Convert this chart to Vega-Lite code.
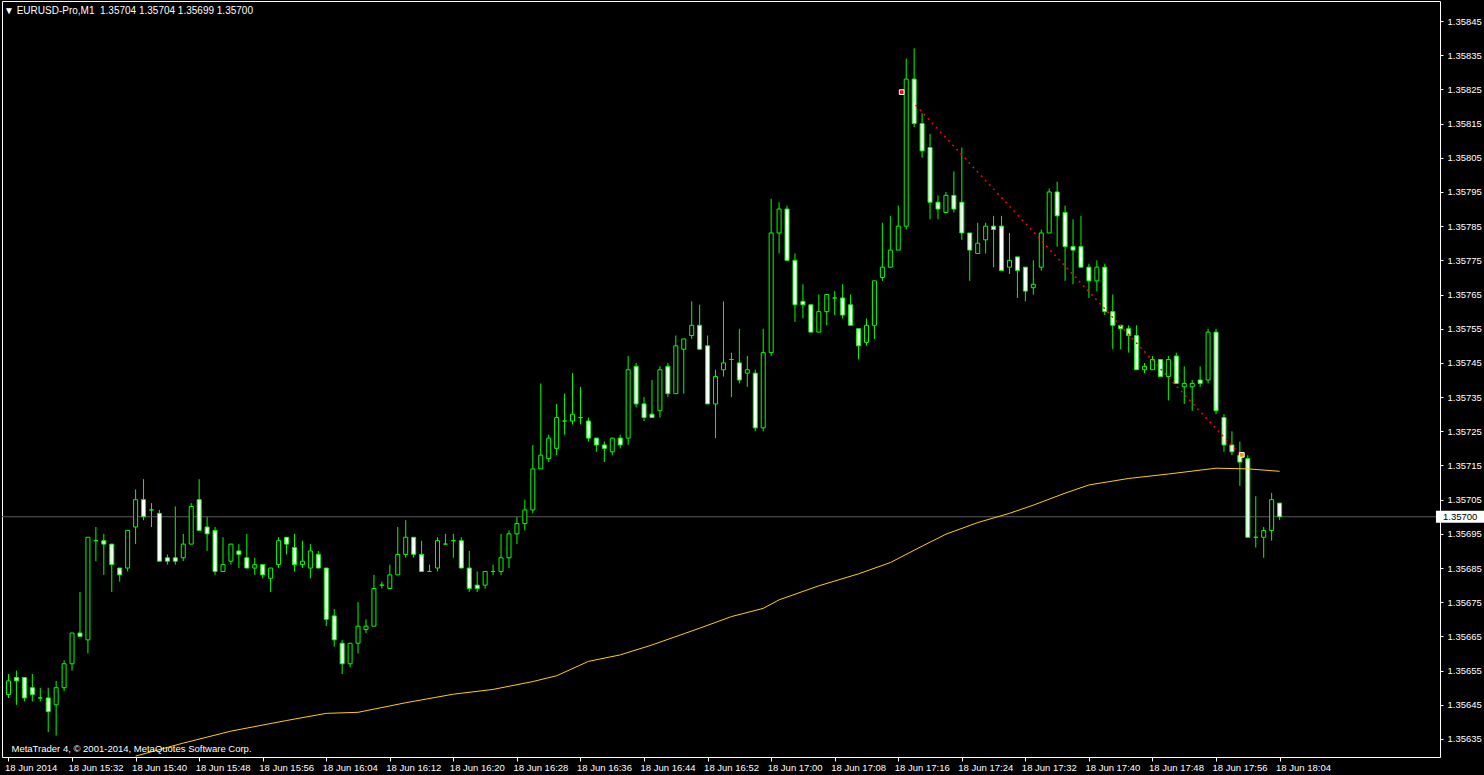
{
"$schema": "https://vega.github.io/schema/vega-lite/v6.json",
"width": 1438, "height": 756,
"autosize": {"type": "none"},
"padding": {"left": 2, "top": 1, "right": 44, "bottom": 18},
"background": "#000000",
"view": {"stroke": "#ffffff", "strokeWidth": 1, "fill": "#000000"},
"config": {"axis": {"labelOverlap": false, "labelBound": false, "labelFlush": false, "grid": false, "domain": false}},
"title": {"text": "▼ EURUSD-Pro,M1\u00a0\u00a01.35704 1.35704 1.35699 1.35700", "anchor": "start", "orient": "top", "frame": "group", "offset": -15, "dx": 2, "color": "#ffffff", "font": "Liberation Sans", "fontSize": 10, "fontWeight": "normal"},
"datasets": {
"candles": [
{"t":"2014-06-18T15:24:00Z","o":1.35648,"h":1.35654,"l":1.35647,"c":1.35652},
{"t":"2014-06-18T15:25:00Z","o":1.35653,"h":1.35655,"l":1.35645,"c":1.35652},
{"t":"2014-06-18T15:26:00Z","o":1.35653,"h":1.35653,"l":1.35646,"c":1.35647},
{"t":"2014-06-18T15:27:00Z","o":1.35650,"h":1.35654,"l":1.35646,"c":1.35648},
{"t":"2014-06-18T15:28:00Z","o":1.35647,"h":1.35650,"l":1.35646,"c":1.35647},
{"t":"2014-06-18T15:29:00Z","o":1.35647,"h":1.35650,"l":1.35637,"c":1.35643},
{"t":"2014-06-18T15:30:00Z","o":1.35645,"h":1.35652,"l":1.35636,"c":1.35650},
{"t":"2014-06-18T15:31:00Z","o":1.35650,"h":1.35658,"l":1.35649,"c":1.35657},
{"t":"2014-06-18T15:32:00Z","o":1.35657,"h":1.35666,"l":1.35655,"c":1.35666},
{"t":"2014-06-18T15:33:00Z","o":1.35666,"h":1.35678,"l":1.35665,"c":1.35665},
{"t":"2014-06-18T15:34:00Z","o":1.35664,"h":1.35694,"l":1.35660,"c":1.35694},
{"t":"2014-06-18T15:35:00Z","o":1.35693,"h":1.35697,"l":1.35687,"c":1.35693},
{"t":"2014-06-18T15:36:00Z","o":1.35693,"h":1.35695,"l":1.35683,"c":1.35692},
{"t":"2014-06-18T15:37:00Z","o":1.35692,"h":1.35692,"l":1.35678,"c":1.35686},
{"t":"2014-06-18T15:38:00Z","o":1.35685,"h":1.35685,"l":1.35681,"c":1.35683},
{"t":"2014-06-18T15:39:00Z","o":1.35685,"h":1.35696,"l":1.35684,"c":1.35696},
{"t":"2014-06-18T15:40:00Z","o":1.35697,"h":1.35708,"l":1.35692,"c":1.35705},
{"t":"2014-06-18T15:41:00Z","o":1.35705,"h":1.35711,"l":1.35699,"c":1.35700},
{"t":"2014-06-18T15:42:00Z","o":1.35702,"h":1.35704,"l":1.35697,"c":1.35702},
{"t":"2014-06-18T15:43:00Z","o":1.35701,"h":1.35702,"l":1.35687,"c":1.35687},
{"t":"2014-06-18T15:44:00Z","o":1.35688,"h":1.35689,"l":1.35686,"c":1.35687},
{"t":"2014-06-18T15:45:00Z","o":1.35688,"h":1.35703,"l":1.35686,"c":1.35687},
{"t":"2014-06-18T15:46:00Z","o":1.35688,"h":1.35695,"l":1.35687,"c":1.35692},
{"t":"2014-06-18T15:47:00Z","o":1.35692,"h":1.35704,"l":1.35692,"c":1.35703},
{"t":"2014-06-18T15:48:00Z","o":1.35705,"h":1.35711,"l":1.35696,"c":1.35696},
{"t":"2014-06-18T15:49:00Z","o":1.35697,"h":1.35700,"l":1.35690,"c":1.35695},
{"t":"2014-06-18T15:50:00Z","o":1.35696,"h":1.35697,"l":1.35683,"c":1.35684},
{"t":"2014-06-18T15:51:00Z","o":1.35684,"h":1.35694,"l":1.35684,"c":1.35686},
{"t":"2014-06-18T15:52:00Z","o":1.35687,"h":1.35692,"l":1.35686,"c":1.35692},
{"t":"2014-06-18T15:53:00Z","o":1.35690,"h":1.35692,"l":1.35685,"c":1.35689},
{"t":"2014-06-18T15:54:00Z","o":1.35688,"h":1.35695,"l":1.35685,"c":1.35685},
{"t":"2014-06-18T15:55:00Z","o":1.35685,"h":1.35688,"l":1.35683,"c":1.35686},
{"t":"2014-06-18T15:56:00Z","o":1.35686,"h":1.35686,"l":1.35682,"c":1.35683},
{"t":"2014-06-18T15:57:00Z","o":1.35682,"h":1.35685,"l":1.35678,"c":1.35685},
{"t":"2014-06-18T15:58:00Z","o":1.35686,"h":1.35694,"l":1.35685,"c":1.35693},
{"t":"2014-06-18T15:59:00Z","o":1.35694,"h":1.35694,"l":1.35689,"c":1.35692},
{"t":"2014-06-18T16:00:00Z","o":1.35691,"h":1.35695,"l":1.35684,"c":1.35686},
{"t":"2014-06-18T16:01:00Z","o":1.35686,"h":1.35693,"l":1.35685,"c":1.35687},
{"t":"2014-06-18T16:02:00Z","o":1.35685,"h":1.35692,"l":1.35682,"c":1.35690},
{"t":"2014-06-18T16:03:00Z","o":1.35689,"h":1.35690,"l":1.35685,"c":1.35685},
{"t":"2014-06-18T16:04:00Z","o":1.35685,"h":1.35685,"l":1.35668,"c":1.35670},
{"t":"2014-06-18T16:05:00Z","o":1.35671,"h":1.35673,"l":1.35662,"c":1.35664},
{"t":"2014-06-18T16:06:00Z","o":1.35663,"h":1.35664,"l":1.35654,"c":1.35657},
{"t":"2014-06-18T16:07:00Z","o":1.35657,"h":1.35663,"l":1.35656,"c":1.35663},
{"t":"2014-06-18T16:08:00Z","o":1.35663,"h":1.35675,"l":1.35660,"c":1.35668},
{"t":"2014-06-18T16:09:00Z","o":1.35667,"h":1.35670,"l":1.35666,"c":1.35668},
{"t":"2014-06-18T16:10:00Z","o":1.35668,"h":1.35683,"l":1.35668,"c":1.35679},
{"t":"2014-06-18T16:11:00Z","o":1.35680,"h":1.35681,"l":1.35679,"c":1.35680},
{"t":"2014-06-18T16:12:00Z","o":1.35679,"h":1.35686,"l":1.35679,"c":1.35683},
{"t":"2014-06-18T16:13:00Z","o":1.35683,"h":1.35697,"l":1.35683,"c":1.35689},
{"t":"2014-06-18T16:14:00Z","o":1.35689,"h":1.35699,"l":1.35688,"c":1.35694},
{"t":"2014-06-18T16:15:00Z","o":1.35694,"h":1.35694,"l":1.35688,"c":1.35689},
{"t":"2014-06-18T16:16:00Z","o":1.35689,"h":1.35693,"l":1.35684,"c":1.35684},
{"t":"2014-06-18T16:17:00Z","o":1.35684,"h":1.35686,"l":1.35684,"c":1.35684},
{"t":"2014-06-18T16:18:00Z","o":1.35685,"h":1.35694,"l":1.35684,"c":1.35693},
{"t":"2014-06-18T16:19:00Z","o":1.35692,"h":1.35695,"l":1.35692,"c":1.35692},
{"t":"2014-06-18T16:20:00Z","o":1.35693,"h":1.35695,"l":1.35688,"c":1.35693},
{"t":"2014-06-18T16:21:00Z","o":1.35693,"h":1.35694,"l":1.35685,"c":1.35685},
{"t":"2014-06-18T16:22:00Z","o":1.35685,"h":1.35690,"l":1.35678,"c":1.35679},
{"t":"2014-06-18T16:23:00Z","o":1.35680,"h":1.35684,"l":1.35678,"c":1.35679},
{"t":"2014-06-18T16:24:00Z","o":1.35680,"h":1.35684,"l":1.35679,"c":1.35684},
{"t":"2014-06-18T16:25:00Z","o":1.35684,"h":1.35686,"l":1.35683,"c":1.35684},
{"t":"2014-06-18T16:26:00Z","o":1.35684,"h":1.35695,"l":1.35683,"c":1.35688},
{"t":"2014-06-18T16:27:00Z","o":1.35688,"h":1.35696,"l":1.35685,"c":1.35695},
{"t":"2014-06-18T16:28:00Z","o":1.35695,"h":1.35700,"l":1.35692,"c":1.35698},
{"t":"2014-06-18T16:29:00Z","o":1.35698,"h":1.35705,"l":1.35696,"c":1.35702},
{"t":"2014-06-18T16:30:00Z","o":1.35702,"h":1.35721,"l":1.35701,"c":1.35714},
{"t":"2014-06-18T16:31:00Z","o":1.35714,"h":1.35739,"l":1.35714,"c":1.35718},
{"t":"2014-06-18T16:32:00Z","o":1.35717,"h":1.35724,"l":1.35716,"c":1.35723},
{"t":"2014-06-18T16:33:00Z","o":1.35720,"h":1.35733,"l":1.35718,"c":1.35729},
{"t":"2014-06-18T16:34:00Z","o":1.35728,"h":1.35736,"l":1.35724,"c":1.35728},
{"t":"2014-06-18T16:35:00Z","o":1.35728,"h":1.35742,"l":1.35727,"c":1.35730},
{"t":"2014-06-18T16:36:00Z","o":1.35729,"h":1.35738,"l":1.35727,"c":1.35729},
{"t":"2014-06-18T16:37:00Z","o":1.35728,"h":1.35729,"l":1.35722,"c":1.35723},
{"t":"2014-06-18T16:38:00Z","o":1.35723,"h":1.35723,"l":1.35719,"c":1.35721},
{"t":"2014-06-18T16:39:00Z","o":1.35721,"h":1.35722,"l":1.35716,"c":1.35720},
{"t":"2014-06-18T16:40:00Z","o":1.35719,"h":1.35723,"l":1.35718,"c":1.35723},
{"t":"2014-06-18T16:41:00Z","o":1.35723,"h":1.35724,"l":1.35720,"c":1.35721},
{"t":"2014-06-18T16:42:00Z","o":1.35723,"h":1.35747,"l":1.35721,"c":1.35743},
{"t":"2014-06-18T16:43:00Z","o":1.35744,"h":1.35745,"l":1.35732,"c":1.35733},
{"t":"2014-06-18T16:44:00Z","o":1.35733,"h":1.35735,"l":1.35728,"c":1.35729},
{"t":"2014-06-18T16:45:00Z","o":1.35730,"h":1.35740,"l":1.35729,"c":1.35729},
{"t":"2014-06-18T16:46:00Z","o":1.35731,"h":1.35744,"l":1.35729,"c":1.35743},
{"t":"2014-06-18T16:47:00Z","o":1.35744,"h":1.35745,"l":1.35735,"c":1.35736},
{"t":"2014-06-18T16:48:00Z","o":1.35736,"h":1.35753,"l":1.35736,"c":1.35750},
{"t":"2014-06-18T16:49:00Z","o":1.35749,"h":1.35752,"l":1.35736,"c":1.35752},
{"t":"2014-06-18T16:50:00Z","o":1.35753,"h":1.35763,"l":1.35752,"c":1.35756},
{"t":"2014-06-18T16:51:00Z","o":1.35756,"h":1.35762,"l":1.35749,"c":1.35749},
{"t":"2014-06-18T16:52:00Z","o":1.35750,"h":1.35753,"l":1.35733,"c":1.35733},
{"t":"2014-06-18T16:53:00Z","o":1.35733,"h":1.35743,"l":1.35723,"c":1.35741},
{"t":"2014-06-18T16:54:00Z","o":1.35743,"h":1.35763,"l":1.35741,"c":1.35745},
{"t":"2014-06-18T16:55:00Z","o":1.35746,"h":1.35748,"l":1.35735,"c":1.35746},
{"t":"2014-06-18T16:56:00Z","o":1.35745,"h":1.35755,"l":1.35739,"c":1.35740},
{"t":"2014-06-18T16:57:00Z","o":1.35742,"h":1.35747,"l":1.35738,"c":1.35743},
{"t":"2014-06-18T16:58:00Z","o":1.35742,"h":1.35743,"l":1.35725,"c":1.35726},
{"t":"2014-06-18T16:59:00Z","o":1.35726,"h":1.35755,"l":1.35725,"c":1.35748},
{"t":"2014-06-18T17:00:00Z","o":1.35748,"h":1.35793,"l":1.35747,"c":1.35783},
{"t":"2014-06-18T17:01:00Z","o":1.35783,"h":1.35792,"l":1.35777,"c":1.35790},
{"t":"2014-06-18T17:02:00Z","o":1.35790,"h":1.35791,"l":1.35775,"c":1.35775},
{"t":"2014-06-18T17:03:00Z","o":1.35775,"h":1.35777,"l":1.35757,"c":1.35762},
{"t":"2014-06-18T17:04:00Z","o":1.35763,"h":1.35768,"l":1.35758,"c":1.35762},
{"t":"2014-06-18T17:05:00Z","o":1.35762,"h":1.35762,"l":1.35754,"c":1.35754},
{"t":"2014-06-18T17:06:00Z","o":1.35754,"h":1.35765,"l":1.35754,"c":1.35760},
{"t":"2014-06-18T17:07:00Z","o":1.35760,"h":1.35765,"l":1.35756,"c":1.35765},
{"t":"2014-06-18T17:08:00Z","o":1.35764,"h":1.35766,"l":1.35759,"c":1.35764},
{"t":"2014-06-18T17:09:00Z","o":1.35764,"h":1.35768,"l":1.35758,"c":1.35759},
{"t":"2014-06-18T17:10:00Z","o":1.35762,"h":1.35765,"l":1.35756,"c":1.35756},
{"t":"2014-06-18T17:11:00Z","o":1.35755,"h":1.35755,"l":1.35746,"c":1.35750},
{"t":"2014-06-18T17:12:00Z","o":1.35751,"h":1.35758,"l":1.35750,"c":1.35756},
{"t":"2014-06-18T17:13:00Z","o":1.35756,"h":1.35769,"l":1.35752,"c":1.35769},
{"t":"2014-06-18T17:14:00Z","o":1.35770,"h":1.35786,"l":1.35769,"c":1.35773},
{"t":"2014-06-18T17:15:00Z","o":1.35773,"h":1.35788,"l":1.35773,"c":1.35778},
{"t":"2014-06-18T17:16:00Z","o":1.35778,"h":1.35791,"l":1.35778,"c":1.35785},
{"t":"2014-06-18T17:17:00Z","o":1.35785,"h":1.35834,"l":1.35784,"c":1.35828},
{"t":"2014-06-18T17:18:00Z","o":1.35828,"h":1.35837,"l":1.35814,"c":1.35815},
{"t":"2014-06-18T17:19:00Z","o":1.35815,"h":1.35818,"l":1.35805,"c":1.35807},
{"t":"2014-06-18T17:20:00Z","o":1.35808,"h":1.35812,"l":1.35787,"c":1.35792},
{"t":"2014-06-18T17:21:00Z","o":1.35792,"h":1.35794,"l":1.35787,"c":1.35790},
{"t":"2014-06-18T17:22:00Z","o":1.35789,"h":1.35795,"l":1.35789,"c":1.35794},
{"t":"2014-06-18T17:23:00Z","o":1.35794,"h":1.35801,"l":1.35789,"c":1.35790},
{"t":"2014-06-18T17:24:00Z","o":1.35792,"h":1.35808,"l":1.35781,"c":1.35783},
{"t":"2014-06-18T17:25:00Z","o":1.35783,"h":1.35783,"l":1.35769,"c":1.35778},
{"t":"2014-06-18T17:26:00Z","o":1.35777,"h":1.35786,"l":1.35777,"c":1.35780},
{"t":"2014-06-18T17:27:00Z","o":1.35781,"h":1.35786,"l":1.35777,"c":1.35785},
{"t":"2014-06-18T17:28:00Z","o":1.35785,"h":1.35788,"l":1.35773,"c":1.35784},
{"t":"2014-06-18T17:29:00Z","o":1.35785,"h":1.35788,"l":1.35772,"c":1.35772},
{"t":"2014-06-18T17:30:00Z","o":1.35773,"h":1.35783,"l":1.35771,"c":1.35775},
{"t":"2014-06-18T17:31:00Z","o":1.35776,"h":1.35776,"l":1.35764,"c":1.35772},
{"t":"2014-06-18T17:32:00Z","o":1.35773,"h":1.35773,"l":1.35763,"c":1.35766},
{"t":"2014-06-18T17:33:00Z","o":1.35767,"h":1.35775,"l":1.35765,"c":1.35768},
{"t":"2014-06-18T17:34:00Z","o":1.35773,"h":1.35784,"l":1.35772,"c":1.35783},
{"t":"2014-06-18T17:35:00Z","o":1.35783,"h":1.35796,"l":1.35783,"c":1.35795},
{"t":"2014-06-18T17:36:00Z","o":1.35795,"h":1.35798,"l":1.35779,"c":1.35788},
{"t":"2014-06-18T17:37:00Z","o":1.35789,"h":1.35791,"l":1.35769,"c":1.35779},
{"t":"2014-06-18T17:38:00Z","o":1.35779,"h":1.35787,"l":1.35768,"c":1.35778},
{"t":"2014-06-18T17:39:00Z","o":1.35779,"h":1.35788,"l":1.35773,"c":1.35773},
{"t":"2014-06-18T17:40:00Z","o":1.35773,"h":1.35774,"l":1.35764,"c":1.35769},
{"t":"2014-06-18T17:41:00Z","o":1.35769,"h":1.35775,"l":1.35766,"c":1.35773},
{"t":"2014-06-18T17:42:00Z","o":1.35773,"h":1.35774,"l":1.35759,"c":1.35760},
{"t":"2014-06-18T17:43:00Z","o":1.35760,"h":1.35765,"l":1.35749,"c":1.35756},
{"t":"2014-06-18T17:44:00Z","o":1.35756,"h":1.35756,"l":1.35749,"c":1.35755},
{"t":"2014-06-18T17:45:00Z","o":1.35755,"h":1.35756,"l":1.35748,"c":1.35753},
{"t":"2014-06-18T17:46:00Z","o":1.35753,"h":1.35756,"l":1.35743,"c":1.35743},
{"t":"2014-06-18T17:47:00Z","o":1.35743,"h":1.35745,"l":1.35742,"c":1.35744},
{"t":"2014-06-18T17:48:00Z","o":1.35743,"h":1.35747,"l":1.35743,"c":1.35746},
{"t":"2014-06-18T17:49:00Z","o":1.35746,"h":1.35746,"l":1.35741,"c":1.35741},
{"t":"2014-06-18T17:50:00Z","o":1.35741,"h":1.35747,"l":1.35734,"c":1.35746},
{"t":"2014-06-18T17:51:00Z","o":1.35747,"h":1.35748,"l":1.35739,"c":1.35739},
{"t":"2014-06-18T17:52:00Z","o":1.35738,"h":1.35744,"l":1.35733,"c":1.35739},
{"t":"2014-06-18T17:53:00Z","o":1.35738,"h":1.35740,"l":1.35731,"c":1.35739},
{"t":"2014-06-18T17:54:00Z","o":1.35740,"h":1.35744,"l":1.35738,"c":1.35739},
{"t":"2014-06-18T17:55:00Z","o":1.35740,"h":1.35755,"l":1.35739,"c":1.35754},
{"t":"2014-06-18T17:56:00Z","o":1.35754,"h":1.35755,"l":1.35730,"c":1.35731},
{"t":"2014-06-18T17:57:00Z","o":1.35729,"h":1.35730,"l":1.35719,"c":1.35721},
{"t":"2014-06-18T17:58:00Z","o":1.35721,"h":1.35725,"l":1.35718,"c":1.35719},
{"t":"2014-06-18T17:59:00Z","o":1.35718,"h":1.35722,"l":1.35709,"c":1.35716},
{"t":"2014-06-18T18:00:00Z","o":1.35717,"h":1.35718,"l":1.35694,"c":1.35694},
{"t":"2014-06-18T18:01:00Z","o":1.35694,"h":1.35706,"l":1.35691,"c":1.35694},
{"t":"2014-06-18T18:02:00Z","o":1.35694,"h":1.35697,"l":1.35688,"c":1.35696},
{"t":"2014-06-18T18:03:00Z","o":1.35696,"h":1.35707,"l":1.35693,"c":1.35705},
{"t":"2014-06-18T18:04:00Z","o":1.35704,"h":1.35704,"l":1.35699,"c":1.35700}
],
"ma": [
{"t":"2014-06-18T15:40:00Z","ma":1.35630},
{"t":"2014-06-18T15:46:00Z","ma":1.356338},
{"t":"2014-06-18T15:52:00Z","ma":1.356373},
{"t":"2014-06-18T15:59:00Z","ma":1.356404},
{"t":"2014-06-18T16:04:00Z","ma":1.356425},
{"t":"2014-06-18T16:08:00Z","ma":1.356428},
{"t":"2014-06-18T16:14:00Z","ma":1.356456},
{"t":"2014-06-18T16:20:00Z","ma":1.356481},
{"t":"2014-06-18T16:25:00Z","ma":1.356495},
{"t":"2014-06-18T16:30:00Z","ma":1.356518},
{"t":"2014-06-18T16:33:00Z","ma":1.356535},
{"t":"2014-06-18T16:37:00Z","ma":1.356577},
{"t":"2014-06-18T16:41:00Z","ma":1.356596},
{"t":"2014-06-18T16:45:00Z","ma":1.356625},
{"t":"2014-06-18T16:51:00Z","ma":1.356674},
{"t":"2014-06-18T16:55:00Z","ma":1.356708},
{"t":"2014-06-18T16:59:00Z","ma":1.356732},
{"t":"2014-06-18T17:01:00Z","ma":1.356757},
{"t":"2014-06-18T17:06:00Z","ma":1.356798},
{"t":"2014-06-18T17:11:00Z","ma":1.356833},
{"t":"2014-06-18T17:15:00Z","ma":1.356866},
{"t":"2014-06-18T17:19:00Z","ma":1.356914},
{"t":"2014-06-18T17:22:00Z","ma":1.356949},
{"t":"2014-06-18T17:26:00Z","ma":1.356983},
{"t":"2014-06-18T17:30:00Z","ma":1.357010},
{"t":"2014-06-18T17:33:00Z","ma":1.357034},
{"t":"2014-06-18T17:37:00Z","ma":1.357069},
{"t":"2014-06-18T17:40:00Z","ma":1.357093},
{"t":"2014-06-18T17:45:00Z","ma":1.357112},
{"t":"2014-06-18T17:50:00Z","ma":1.357125},
{"t":"2014-06-18T17:56:00Z","ma":1.357142},
{"t":"2014-06-18T18:00:00Z","ma":1.357140},
{"t":"2014-06-18T18:04:00Z","ma":1.357133}
],
"trendline": [
{"t":"2014-06-18T17:18:11Z","p":1.358204},
{"t":"2014-06-18T17:59:04Z","p":1.357181}
],
"trades": [
{"t":"2014-06-18T17:16:26Z","p":1.358242,"kind":"open"},
{"t":"2014-06-18T17:59:15Z","p":1.357181,"kind":"close"}
]
},
"layer": [
{
"data": {"name": "candles"},
"mark": {"type": "rule", "color": "#00ff00", "strokeWidth": 1, "clip": true},
"encoding": {
"x": {"field": "t", "type": "temporal", "title": null,
"scale": {"type": "utc", "nice": false, "domain": [{"year":2014,"month":6,"date":18,"hours":15,"minutes":23,"seconds":48,"milliseconds":750,"utc":true},{"year":2014,"month":6,"date":18,"hours":18,"minutes":23,"seconds":33,"milliseconds":750,"utc":true}]},
"axis": {"orient": "bottom", "domain": false, "grid": false, "tickColor": "#ffffff", "tickSize": 4, "tickCount": 60, "labelColor": "#ffffff", "labelFont": "Liberation Sans", "labelFontSize": 9.5, "labelAlign": "left", "labelPadding": 1, "labelOffset": -4, "labelFlush": false, "labelOverlap": false, "labelBound": false,
"labelExpr": "utcFormat(datum.value, '%H:%M') == '15:24' ? '18 Jun 2014' : utcFormat(datum.value, '%d %b %H:%M')",
"values": [
{"year":2014,"month":6,"date":18,"hours":15,"minutes":24,"utc":true},
{"year":2014,"month":6,"date":18,"hours":15,"minutes":32,"utc":true},
{"year":2014,"month":6,"date":18,"hours":15,"minutes":40,"utc":true},
{"year":2014,"month":6,"date":18,"hours":15,"minutes":48,"utc":true},
{"year":2014,"month":6,"date":18,"hours":15,"minutes":56,"utc":true},
{"year":2014,"month":6,"date":18,"hours":16,"minutes":4,"utc":true},
{"year":2014,"month":6,"date":18,"hours":16,"minutes":12,"utc":true},
{"year":2014,"month":6,"date":18,"hours":16,"minutes":20,"utc":true},
{"year":2014,"month":6,"date":18,"hours":16,"minutes":28,"utc":true},
{"year":2014,"month":6,"date":18,"hours":16,"minutes":36,"utc":true},
{"year":2014,"month":6,"date":18,"hours":16,"minutes":44,"utc":true},
{"year":2014,"month":6,"date":18,"hours":16,"minutes":52,"utc":true},
{"year":2014,"month":6,"date":18,"hours":17,"minutes":0,"utc":true},
{"year":2014,"month":6,"date":18,"hours":17,"minutes":8,"utc":true},
{"year":2014,"month":6,"date":18,"hours":17,"minutes":16,"utc":true},
{"year":2014,"month":6,"date":18,"hours":17,"minutes":24,"utc":true},
{"year":2014,"month":6,"date":18,"hours":17,"minutes":32,"utc":true},
{"year":2014,"month":6,"date":18,"hours":17,"minutes":40,"utc":true},
{"year":2014,"month":6,"date":18,"hours":17,"minutes":48,"utc":true},
{"year":2014,"month":6,"date":18,"hours":17,"minutes":56,"utc":true},
{"year":2014,"month":6,"date":18,"hours":18,"minutes":4,"utc":true}
]}},
"y": {"field": "l", "type": "quantitative", "title": null,
"scale": {"domain": [1.35629732, 1.3585085], "nice": false, "zero": false},
"axis": {"orient": "right", "domain": false, "grid": false, "tickColor": "#ffffff", "tickSize": 3, "tickCount": 60, "labelColor": "#ffffff", "labelFont": "Liberation Sans", "labelFontSize": 9.5, "labelPadding": 4, "format": ".5f", "labelOverlap": false, "labelBound": false, "labelFlush": false,
"values": [1.35635,1.35645,1.35655,1.35665,1.35675,1.35685,1.35695,1.35705,1.35715,1.35725,1.35735,1.35745,1.35755,1.35765,1.35775,1.35785,1.35795,1.35805,1.35815,1.35825,1.35835,1.35845]}},
"y2": {"field": "h"}
}
},
{
"data": {"values": [{}]},
"mark": {"type": "rule", "color": "#5a5a5a", "strokeWidth": 1},
"encoding": {"y": {"datum": 1.357, "type": "quantitative", "title": null}}
},
{
"data": {"name": "candles"},
"mark": {"type": "bar", "width": 4, "stroke": "#00ff00", "strokeWidth": 1, "clip": true},
"encoding": {
"x": {"field": "t", "type": "temporal", "title": null},
"y": {"field": "o", "type": "quantitative", "title": null},
"y2": {"field": "c"},
"fill": {"condition": {"test": "datum.c < datum.o", "value": "#ffffff"}, "value": "#000000"}
}
},
{
"data": {"name": "ma"},
"mark": {"type": "line", "color": "#ffd000", "strokeWidth": 1, "clip": true},
"encoding": {
"x": {"field": "t", "type": "temporal", "title": null},
"y": {"field": "ma", "type": "quantitative", "title": null}
}
},
{
"data": {"name": "trendline"},
"mark": {"type": "line", "color": "#ff0000", "strokeWidth": 1.5, "strokeDash": [2, 4]},
"encoding": {
"x": {"field": "t", "type": "temporal", "title": null},
"y": {"field": "p", "type": "quantitative", "title": null}
}
},
{
"data": {"name": "trades"},
"mark": {"type": "point", "shape": "square", "size": 22, "filled": true, "stroke": "#ffffff", "strokeWidth": 1, "opacity": 1},
"encoding": {
"x": {"field": "t", "type": "temporal", "title": null},
"y": {"field": "p", "type": "quantitative", "title": null},
"fill": {"field": "kind", "type": "nominal", "legend": null, "scale": {"domain": ["open", "close"], "range": ["#ff0000", "#e0a000"]}}
}
},
{
"data": {"values": [{}]},
"mark": {"type": "text", "text": "MetaTrader 4, © 2001-2014, MetaQuotes Software Corp.", "align": "left", "baseline": "middle", "dx": 3, "color": "#ffffff", "font": "Liberation Sans", "fontSize": 9.5},
"encoding": {
"x": {"datum": {"year":2014,"month":6,"date":18,"hours":15,"minutes":24,"utc":true}, "type": "temporal", "title": null},
"y": {"datum": 1.35632, "type": "quantitative", "title": null}
}
},
{
"data": {"values": [{}]},
"mark": {"type": "rect", "fill": "#ffffff"},
"encoding": {
"x": {"datum": {"year":2014,"month":6,"date":18,"hours":18,"minutes":23,"seconds":41,"utc":true}, "type": "temporal", "title": null},
"x2": {"datum": {"year":2014,"month":6,"date":18,"hours":18,"minutes":30,"utc":true}},
"y": {"datum": 1.3570176, "type": "quantitative", "title": null},
"y2": {"datum": 1.3569824}
}
},
{
"data": {"values": [{}]},
"mark": {"type": "text", "text": "1.35700", "align": "left", "baseline": "middle", "color": "#000000", "font": "Liberation Sans", "fontSize": 9.5},
"encoding": {
"x": {"datum": {"year":2014,"month":6,"date":18,"hours":18,"minutes":24,"seconds":34,"utc":true}, "type": "temporal", "title": null},
"y": {"datum": 1.357, "type": "quantitative", "title": null}
}
}
]
}
